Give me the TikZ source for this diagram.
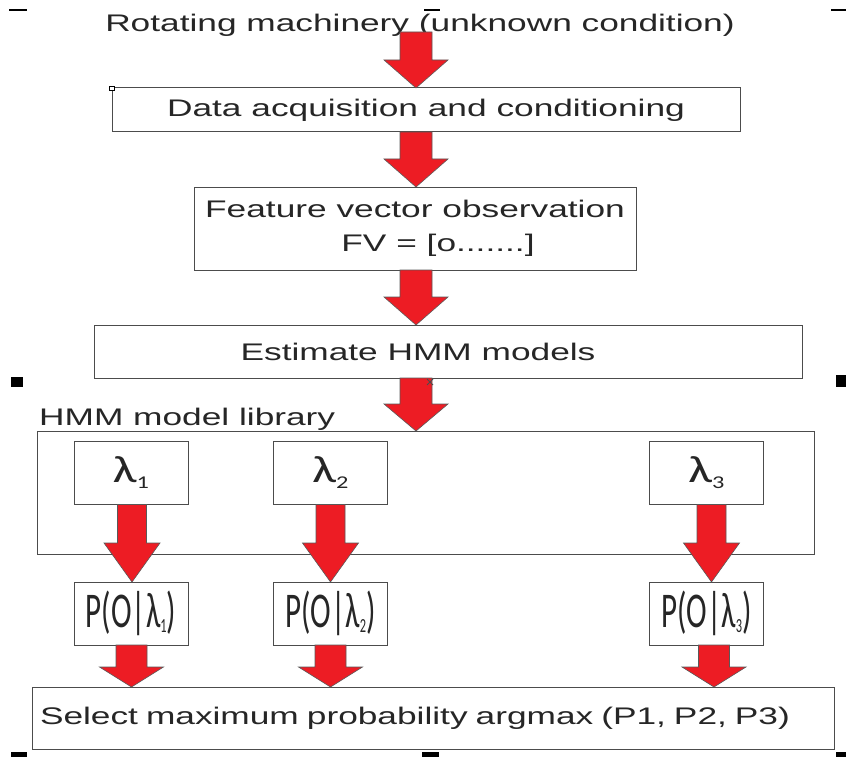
\documentclass[tikz,border=0pt]{standalone}
\usepackage{fontspec}
\setmainfont{Liberation Sans}[FakeStretch=1.47]
\newfontfamily\lamfont{Carlito}[FakeStretch=1.35]
\newfontfamily\probfont{Carlito}[FakeStretch=0.62]
\usetikzlibrary{calc}

\definecolor{arrowred}{RGB}{237,28,36}

\tikzset{
  procbox/.style={draw=black!70, line width=1pt, fill=white, inner sep=0pt, outer sep=0pt, align=center},
  modelbox/.style={procbox, minimum width=114pt, minimum height=63pt},
  blockarrow/.style={fill=arrowred, draw=black!65, line width=0.6pt, line join=miter},
  handle/.style={fill=black},
}

% fat red arrow: start, tip, half shaft, half head, head length
\newcommand\blockarrow[5]{%
  \path[blockarrow] let \p1=(#1), \p2=(#2) in
    (\x1-#3,\y1) -- (\x1+#3,\y1) -- (\x1+#3,\y2+#5) -- (\x2+#4,\y2+#5)
    -- (\x2,\y2) -- (\x2-#4,\y2+#5) -- (\x1-#3,\y2+#5) -- cycle;}

\newcommand\lamtext[1]{{\lamfont\fontsize{38}{38}\selectfont λ\raisebox{-6pt}{\fontsize{18}{18}\selectfont #1}}}
\newcommand\probtext[1]{{\probfont\fontsize{50}{50}\selectfont P(O|λ\raisebox{-5pt}{\fontsize{20}{20}\selectfont #1})}}

\begin{document}
\begin{tikzpicture}[x=1pt, y=-1pt, font=\fontsize{24}{34}\selectfont, text=black!85]

\useasboundingbox (0,0) rectangle (846,757);
\coordinate (spine) at (416,0);

% main chain
\node[anchor=base] (title) at (420,32) {Rotating machinery (unknown condition)};
\node[procbox, minimum width=628pt, minimum height=44pt] (acq) at (426,110) {Data acquisition and conditioning};
\node[procbox, minimum width=442pt, minimum height=83pt] (feat) at (415,228.5) {Feature vector observation\\ \hspace*{46pt}FV = [o.......]};
\node[procbox, minimum width=708pt, minimum height=53pt] (est) at (448,351.5) {\hspace*{-60pt}Estimate HMM models};

% model library
\node[anchor=base west, inner sep=0pt] (libname) at (39,425) {HMM model library};
\node[procbox, minimum width=777pt, minimum height=123pt] (lib) at (425.5,492.5) {};

\node[procbox, minimum width=802pt, minimum height=62pt, inner xsep=8pt, text width=786pt, align=left] (sel) at (433,718)
  {Select maximum probability argmax (P1, P2, P3)};

\blockarrow{title.base -| spine}{acq.north -| spine}{16pt}{32pt}{28pt}
\blockarrow{acq.south -| spine}{feat.north -| spine}{16pt}{32pt}{28pt}
\blockarrow{feat.south -| spine}{est.north -| spine}{16pt}{32pt}{28pt}
\blockarrow{est.south -| spine}{lib.north -| spine}{16pt}{32pt}{27pt}

\foreach \i/\x/\da/\db in {1/131/1/0.5, 2/330.5/0/0, 3/706.5/5/7.5} {
  \node[modelbox] (lam\i) at (\x,473) {\lamtext{\i}};
  \node[modelbox] (p\i) at (\x,613.5) {\probtext{\i}};
  \blockarrow{$(lam\i.south)+(\da,0)$}{$(p\i.north)+(\da,0)$}{14.5pt}{28pt}{39pt}
  \blockarrow{$(p\i.south)+(\db,0)$}{$(sel.north -| p\i.south)+(\db,0)$}{15.5pt}{32pt}{20pt}
}

% selection handles
\fill[handle] (9,9.3) rectangle (27,10.8);
\fill[handle] (424,9.3) rectangle (440,10.8);
\fill[handle] (831,9.3) rectangle (846,10.8);
\fill[handle] (11,377) rectangle (23,387);
\fill[handle] (836,375) rectangle (846,387);
\fill[handle] (11,752) rectangle (27,757);
\fill[handle] (422,752) rectangle (439,757);
\fill[handle] (836,752) rectangle (846,757);
\draw[fill=white, line width=0.8pt] (109,86) rectangle (114,90);
\draw[black!70, line width=0.9pt] (427,379) -- (433,385) (427,385) -- (433,379);

\end{tikzpicture}
\end{document}
